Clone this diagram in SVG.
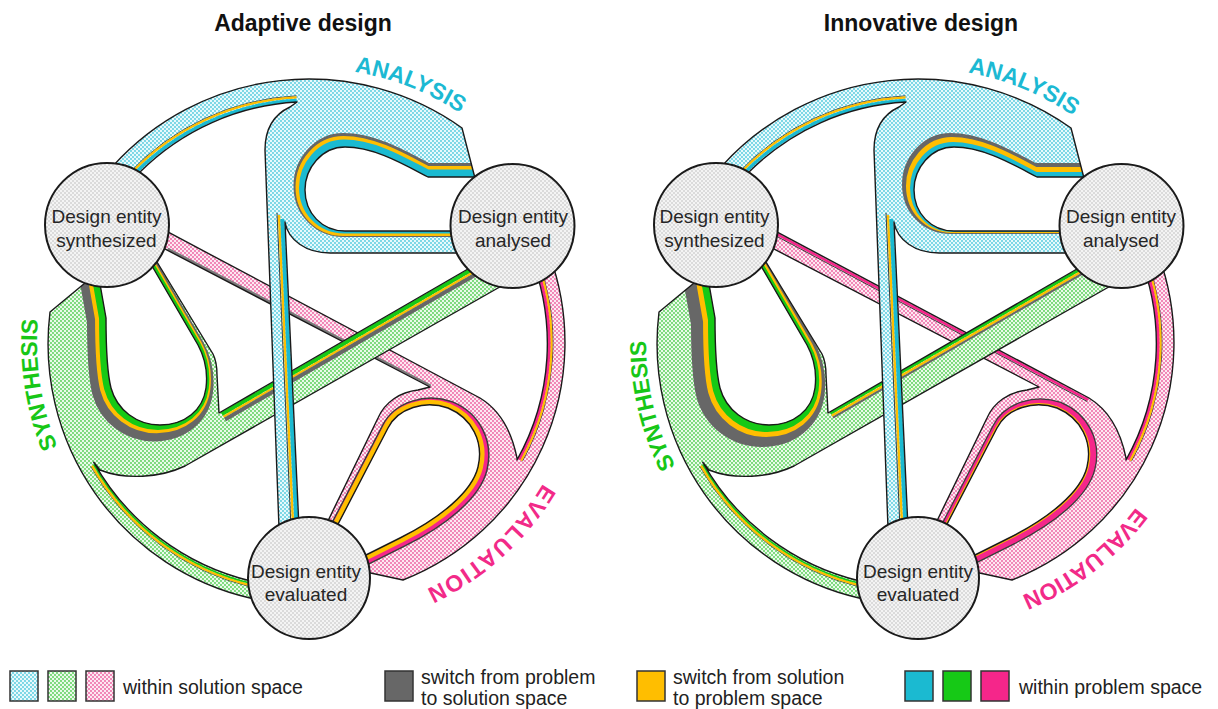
<svg xmlns="http://www.w3.org/2000/svg" width="1218" height="709" viewBox="0 0 1218 709">
<defs>
<style>
.ol{fill:none;stroke:#1a1a1a;stroke-width:1.4;stroke-linejoin:round}
.zB{fill:url(#pB)}.zG{fill:url(#pG)}.zP{fill:url(#pP)}
.s{fill:none;stroke-linejoin:round;stroke-linecap:butt}
.gy{stroke:#676767}.yl{stroke:#ffbe00}.cy{stroke:#1bbad1}.gr{stroke:#16c916}.mg{stroke:#f5268a}.dk{stroke:#3c3c3c}
.node circle{fill:url(#pN);stroke:#1a1a1a;stroke-width:2}
.node text{font-family:"Liberation Sans",Arial,sans-serif;font-size:19px;fill:#262626;text-anchor:middle}
.lbl{font-family:"Liberation Sans",Arial,sans-serif;font-weight:bold;font-size:23px}
.title{font-family:"Liberation Sans",Arial,sans-serif;font-weight:bold;font-size:23px;text-anchor:middle;fill:#111}
.leg{font-family:"Liberation Sans",Arial,sans-serif;font-size:19.5px;fill:#222}
.sw{stroke:#333;stroke-width:1.5}
</style>
<pattern id="pB" width="4" height="4" patternUnits="userSpaceOnUse"><rect width="4" height="4" fill="#e8f9fc"/><circle cx="1" cy="1" r="0.9" fill="#4cc8dc"/><circle cx="3" cy="3" r="0.9" fill="#4cc8dc"/></pattern>
<pattern id="pG" width="4" height="4" patternUnits="userSpaceOnUse"><rect width="4" height="4" fill="#eafaea"/><circle cx="1" cy="1" r="0.9" fill="#4dcc4d"/><circle cx="3" cy="3" r="0.9" fill="#4dcc4d"/></pattern>
<pattern id="pP" width="4" height="4" patternUnits="userSpaceOnUse"><rect width="4" height="4" fill="#fde9f2"/><circle cx="1" cy="1" r="0.9" fill="#ec5a9c"/><circle cx="3" cy="3" r="0.9" fill="#ec5a9c"/></pattern>
<pattern id="pN" width="4" height="4" patternUnits="userSpaceOnUse"><rect width="4" height="4" fill="#f4f4f4"/><circle cx="1" cy="1" r="0.8" fill="#bcbcbc"/><circle cx="3" cy="3" r="0.8" fill="#bcbcbc"/></pattern>

<path id="shB" fill-rule="evenodd" clip-rule="evenodd" d="M 113,166 A 264 264 0 0 1 462,128 L 476,182 L 520,182 L 520,253 L 330,253 C 306,253 288,240 285,222 L 299,528 L 279,528 L 265,150 C 265,128 275,114 290,107 L 297,102 A 241 241 0 0 0 140,172 Z M 520,177 L 428,177 C 405,165 375,147 345,147 C 322,147 305,168 305,190 C 305,213 322,231 345,231 L 520,231 Z"/>
<path id="shG" fill-rule="evenodd" clip-rule="evenodd" d="M 85,283 L 50,312 A 261 261 0 0 0 250,598 L 262,600 L 262,583 L 251.8,581.2 A 246 246 0 0 1 93.8,462.3 L 100,470 C 125,480 160,478 185,466 L 505,284 L 480,262 L 219,413 L 217,375 C 217,365 216,360 213,354 L 157,262 L 150,258 L 107,280 Z M 100,284 L 106,318 C 106,350 107,372 111,388 C 117,410 137,425 160,425 C 185,425 203,410 206,388 C 208,372 205,358 198,345 L 152,266 Z"/>
<path id="shP" fill-rule="evenodd" clip-rule="evenodd" d="M 549.6,255.4 A 255 255 0 0 1 403,580 L 366,572 L 325,527 L 378,418 C 385,402 400,392 418,390 L 430,387 L 160,246.4 L 165,230.4 L 480,398 C 498,409 511,428 517,458 L 517,460 A 238 238 0 0 0 529.7,253.8 Z M 335,530 L 388,428 C 398,408 425,400 448,408 C 472,418 484,442 478,467 C 472,492 440,518 400,538 L 364,556 L 350,546 Z"/>

<path id="hB" d="M 490,177 L 428,177 C 405,165 375,147 345,147 C 322,147 305,168 305,190 C 305,213 322,231 345,231 L 520,231"/>
<path id="hG" d="M 97,262 L 100,284 L 106,318 C 106,350 107,372 111,388 C 117,410 137,425 160,425 C 185,425 203,410 206,388 C 208,372 205,358 198,345 L 152,266 L 146,256"/>
<path id="hP" d="M 332,540 L 335,530 L 388,428 C 398,408 425,400 448,408 C 472,418 484,442 478,467 C 472,492 440,518 400,538 L 364,556 L 356,562"/>

<clipPath id="clB"><use href="#shB"/></clipPath>
<clipPath id="clG"><use href="#shG"/></clipPath>
<clipPath id="clP"><use href="#shP"/></clipPath>

<path id="tpA" d="M 354.4,71.8 A 275 275 0 0 1 519.7,166.2"/>
<path id="tpS" d="M 57.7,447.1 A 272 272 0 0 1 53.4,250"/>
<path id="tpE" d="M 543,483.6 A 273 273 0 0 1 340,614"/>
<path id="tpA2" d="M 359.1,72.6 A 275 275 0 0 1 519.7,166.2"/>
<path id="tpS2" d="M 66.6,466.5 A 272 272 0 0 1 53.4,250"/>
<path id="tpE2" d="M 527,507.3 A 273 273 0 0 1 337.5,614.5"/>
</defs>

<rect width="1218" height="709" fill="#ffffff"/>
<text class="title" x="303" y="31">Adaptive design</text>
<text class="title" x="921" y="31">Innovative design</text>

<!-- ============ ADAPTIVE ============ -->
<g id="adaptive">
<g id="connectors-adaptive">
 <g id="zone-evaluation-a">
  <use href="#shP" class="zP"/>
  <g clip-path="url(#clP)">
   <path class="s dk" stroke-width="0.9" d="M 535.2,251.6 A 244 244 0 0 1 522.4,461.3"/>
   <path class="s yl" stroke-width="2.2" d="M 533.8,252.2 A 242.5 242.5 0 0 1 521.1,460.6"/>
   <path class="s mg" stroke-width="3" d="M 531.5,253.1 A 240 240 0 0 1 518.9,459.4"/>
   <use href="#hP" class="s dk" stroke-width="17" transform="translate(1.5,1)"/>
   <use href="#hP" class="s mg" stroke-width="14" transform="translate(1.5,1)"/>
   <use href="#hP" class="s yl" stroke-width="10"/>
   <path class="s" stroke="#7a7a7a" stroke-width="2.4" d="M 167.7,248.7 L 430.7,385.7"/>
  </g>
  <use href="#shP" class="ol"/>
 </g>
 <g id="zone-synthesis-a">
  <use href="#shG" class="zG"/>
  <g clip-path="url(#clG)">
   <use href="#hG" class="s gy" stroke-width="26" transform="translate(-6,3.4)"/>
   <use href="#hG" class="s yl" stroke-width="15.3" transform="translate(-3.3,0.6)"/>
   <use href="#hG" class="s gr" stroke-width="9.7" transform="translate(-2.1,0.1)"/>
   <path class="s gr" stroke-width="4" d="M 221.9,414.1 L 481.2,264.1"/>
   <path class="s yl" stroke-width="2.2" d="M 223.5,416.8 L 482.8,266.8"/>
   <path class="s gy" stroke-width="4" d="M 225,419.4 L 484.3,269.4"/>
   <path class="s dk" stroke-width="0.8" d="M 90.7,466.5 A 250.8 250.8 0 0 0 252.6,587.4"/>
   <path class="s yl" stroke-width="2.4" d="M 92.1,465.7 A 249.2 249.2 0 0 0 252.9,585.8"/>
   <path class="s gr" stroke-width="1.6" d="M 93.8,464.7 A 247.2 247.2 0 0 0 253.4,583.9"/>
  </g>
  <use href="#shG" class="ol"/>
 </g>
 <g id="zone-analysis-a">
  <use href="#shB" class="zB"/>
  <g clip-path="url(#clB)">
   <use href="#hB" class="s gy" stroke-width="20" transform="translate(-1.5,-4)"/>
   <use href="#hB" class="s yl" stroke-width="16" transform="translate(-1.5,-3)"/>
   <use href="#hB" class="s cy" stroke-width="10" transform="translate(-1,-2.5)"/>
   <path class="s dk" stroke-width="0.9" d="M 128,174.2 A 247.5 247.5 0 0 1 296.5,95.8"/>
   <path class="s yl" stroke-width="2.2" d="M 129.1,175.2 A 246 246 0 0 1 296.6,97.3"/>
   <path class="s cy" stroke-width="3.2" d="M 131.3,177.3 A 243 243 0 0 1 296.7,100.3"/>
   <path class="s dk" stroke-width="1" d="M 277,213 L 291,528"/>
   <path class="s yl" stroke-width="2.4" d="M 279,215 L 293.2,528"/>
   <path class="s cy" stroke-width="4" d="M 282.3,219 L 296.6,528"/>
  </g>
  <use href="#shB" class="ol"/>
 </g>
</g>
<g id="node-synthesized-a" class="node"><circle cx="107" cy="225" r="62"/><text x="106.5" y="223">Design entity</text><text x="106.5" y="247">synthesized</text></g>
<g id="node-analysed-a" class="node"><circle cx="512.5" cy="226" r="62"/><text x="513" y="223">Design entity</text><text x="513" y="247">analysed</text></g>
<g id="node-evaluated-a" class="node"><circle cx="309" cy="578" r="61"/><text x="306" y="578">Design entity</text><text x="306" y="601">evaluated</text></g>
<text class="lbl" fill="#1cb9d3"><textPath href="#tpA">ANALYSIS</textPath></text>
<text class="lbl" fill="#17c717"><textPath href="#tpS">SYNTHESIS</textPath></text>
<text class="lbl" fill="#f22a88" letter-spacing="1.5"><textPath href="#tpE">EVALUATION</textPath></text>
</g>

<!-- ============ INNOVATIVE ============ -->
<g id="innovative" transform="translate(609,0)">
<g id="connectors-innovative">
 <g id="zone-evaluation-i">
  <use href="#shP" class="zP"/>
  <g clip-path="url(#clP)">
   <path class="s dk" stroke-width="0.9" d="M 535.2,251.6 A 244 244 0 0 1 522.4,461.3"/>
   <path class="s yl" stroke-width="2.2" d="M 533.8,252.2 A 242.5 242.5 0 0 1 521.1,460.6"/>
   <path class="s mg" stroke-width="3" d="M 531.5,253.1 A 240 240 0 0 1 518.9,459.4"/>
   <use href="#hP" class="s dk" stroke-width="14" transform="translate(1.8,0.4)"/>
   <use href="#hP" class="s mg" stroke-width="11.4" transform="translate(1.8,0.4)"/>
   <use href="#hP" class="s yl" stroke-width="3.4"/>
   <path class="s mg" stroke-width="2.5" d="M 164.1,232.2 L 479.1,399.8"/>
   <path class="s dk" stroke-width="1" d="M 163.4,234 L 478.4,401.6"/>
  </g>
  <use href="#shP" class="ol"/>
 </g>
 <g id="zone-synthesis-i">
  <use href="#shG" class="zG"/>
  <g clip-path="url(#clG)">
   <use href="#hG" class="s gy" stroke-width="33.6" transform="translate(-7.2,5.2)"/>
   <use href="#hG" class="s yl" stroke-width="18.1" transform="translate(-2.9,2.9)"/>
   <use href="#hG" class="s gr" stroke-width="10.6" transform="translate(-1.7,1.7)"/>
   <path class="s gr" stroke-width="3" d="M 221.4,413.3 L 480.9,263.6"/>
   <path class="s yl" stroke-width="2.4" d="M 222.8,415.7 L 482.3,266"/>
   <path class="s gy" stroke-width="2" d="M 223.9,417.6 L 483.4,267.9"/>
   <path class="s dk" stroke-width="0.8" d="M 90.7,466.5 A 250.8 250.8 0 0 0 252.6,587.4"/>
   <path class="s yl" stroke-width="2.4" d="M 92.1,465.7 A 249.2 249.2 0 0 0 252.9,585.8"/>
   <path class="s gr" stroke-width="1.6" d="M 93.8,464.7 A 247.2 247.2 0 0 0 253.4,583.9"/>
  </g>
  <use href="#shG" class="ol"/>
 </g>
 <g id="zone-analysis-i">
  <use href="#shB" class="zB"/>
  <g clip-path="url(#clB)">
   <use href="#hB" class="s gy" stroke-width="17" transform="translate(-3.5,-5.5)"/>
   <use href="#hB" class="s yl" stroke-width="12" transform="translate(-2,-4)"/>
   <use href="#hB" class="s cy" stroke-width="6" transform="translate(-1,-2)"/>
   <path class="s dk" stroke-width="0.9" d="M 128,174.2 A 247.5 247.5 0 0 1 296.5,95.8"/>
   <path class="s yl" stroke-width="2.2" d="M 129.1,175.2 A 246 246 0 0 1 296.6,97.3"/>
   <path class="s cy" stroke-width="3.2" d="M 131.3,177.3 A 243 243 0 0 1 296.7,100.3"/>
   <path class="s dk" stroke-width="1" d="M 277,213 L 291,528"/>
   <path class="s yl" stroke-width="2.4" d="M 279,215 L 293.2,528"/>
   <path class="s cy" stroke-width="4" d="M 282.3,219 L 296.6,528"/>
  </g>
  <use href="#shB" class="ol"/>
 </g>
</g>
<g id="node-synthesized-i" class="node"><circle cx="107" cy="225" r="62"/><text x="105.5" y="223">Design entity</text><text x="105.5" y="247">synthesized</text></g>
<g id="node-analysed-i" class="node"><circle cx="512.5" cy="226" r="62"/><text x="512" y="223">Design entity</text><text x="512" y="247">analysed</text></g>
<g id="node-evaluated-i" class="node"><circle cx="309" cy="578" r="61"/><text x="309" y="578">Design entity</text><text x="309" y="601">evaluated</text></g>
<text class="lbl" fill="#1cb9d3"><textPath href="#tpA2">ANALYSIS</textPath></text>
<text class="lbl" fill="#17c717"><textPath href="#tpS2">SYNTHESIS</textPath></text>
<text class="lbl" fill="#f22a88"><textPath href="#tpE2">EVALUATION</textPath></text>
</g>

<!-- ============ LEGEND ============ -->
<g id="legend">
 <rect class="sw" x="10" y="671" width="28" height="30" fill="url(#pB)"/>
 <rect class="sw" x="48" y="671" width="28" height="30" fill="url(#pG)"/>
 <rect class="sw" x="86" y="671" width="28" height="30" fill="url(#pP)"/>
 <text class="leg" x="123" y="694">within solution space</text>
 <rect class="sw" x="385" y="671" width="28" height="30" fill="#676767"/>
 <text class="leg" x="421" y="684">switch from problem</text>
 <text class="leg" x="421" y="705">to solution space</text>
 <rect class="sw" x="637" y="671" width="28" height="30" fill="#ffbe00"/>
 <text class="leg" x="673" y="684">switch from solution</text>
 <text class="leg" x="673" y="705">to problem space</text>
 <rect class="sw" x="905" y="671" width="28" height="30" fill="#1bbad1"/>
 <rect class="sw" x="943" y="671" width="28" height="30" fill="#16c916"/>
 <rect class="sw" x="981" y="671" width="28" height="30" fill="#f5268a"/>
 <text class="leg" x="1019" y="694">within problem space</text>
</g>
</svg>
